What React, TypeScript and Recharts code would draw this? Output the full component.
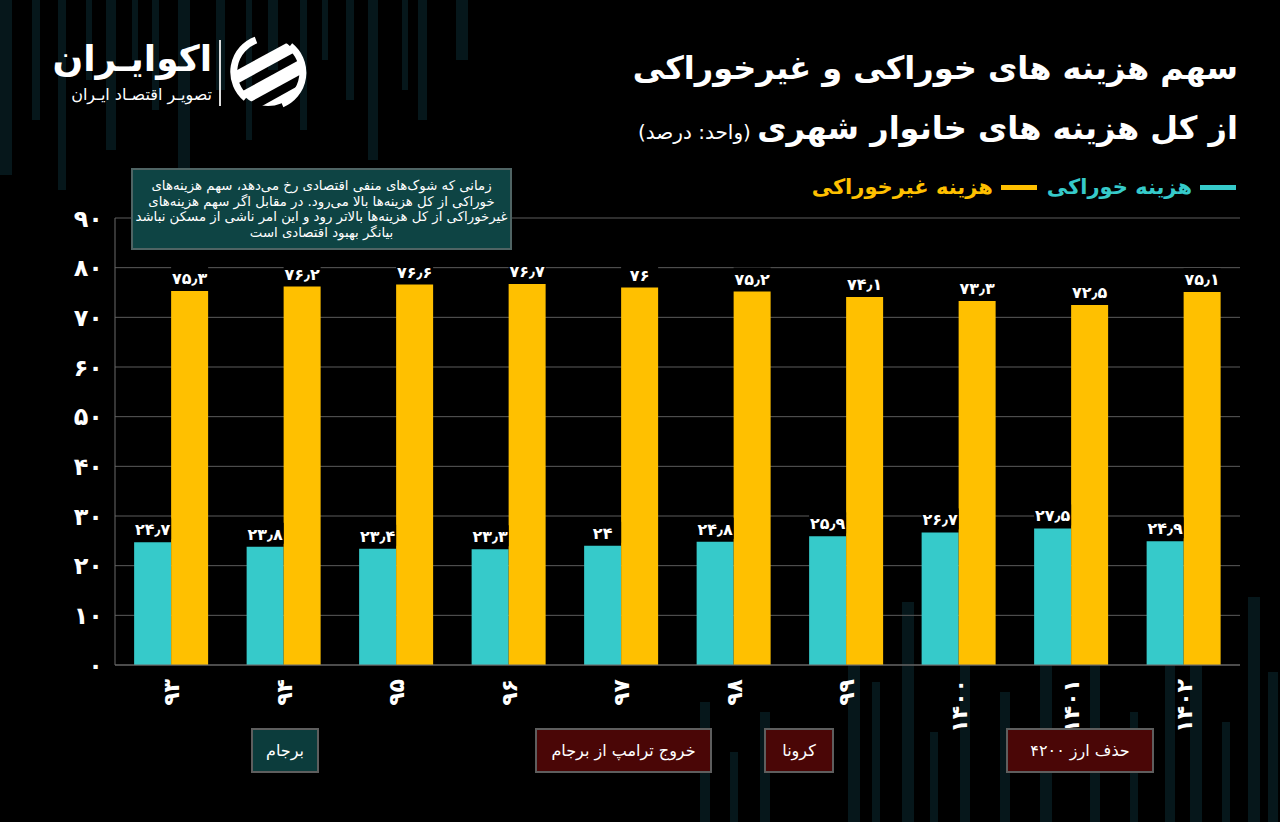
import React from "react";
import { BarChart, Bar, XAxis, YAxis, CartesianGrid, LabelList } from "recharts";

const years = ["۹۳", "۹۴", "۹۵", "۹۶", "۹۷", "۹۸", "۹۹", "۱۴۰۰", "۱۴۰۱", "۱۴۰۲"];
const foodShare = [24.7, 23.8, 23.4, 23.3, 24, 24.8, 25.9, 26.7, 27.5, 24.9];
const nonFoodShare = [75.3, 76.2, 76.6, 76.7, 76, 75.2, 74.1, 73.3, 72.5, 75.1];
const yTicks = [0, 10, 20, 30, 40, 50, 60, 70, 80, 90];
const seriesNames = ["هزینه خوراکی", "هزینه غیرخوراکی"];
const titleLine1 = "سهم هزینه های خوراکی و غیرخوراکی";
const titleLine2 = "از کل هزینه های خانوار شهری";
const unitText = "(واحد: درصد)";
const noteLines = [
  "زمانی که شوک‌های منفی اقتصادی رخ می‌دهد، سهم هزینه‌های",
  "خوراکی از کل هزینه‌ها بالا می‌رود. در مقابل اگر سهم هزینه‌های",
  "غیرخوراکی از کل هزینه‌ها بالاتر رود و این امر ناشی از مسکن نباشد",
  "بیانگر بهبود اقتصادی است",
];
const eventLabels = ["برجام", "خروج ترامپ از برجام", "کرونا", "حذف ارز ۴۲۰۰"];

const data = years.map((y, i) => ({ year: y, food: foodShare[i], nonFood: nonFoodShare[i] }));

const TEAL = "#36CACA";
const GOLD = "#FFC000";
const FONT = "'DejaVu Sans', sans-serif";

const faDigits = "۰۱۲۳۴۵۶۷۸۹";
const toFa = (v: number | string) =>
  String(v)
    .replace(/\d/g, (d) => faDigits[Number(d)])
    .replace(".", "٫");

const YTick = (props: any) => {
  const { x, y, payload } = props;
  return (
    <text x={x - 4} y={y} dy="0.36em" textAnchor="end" fill="#fff" fontSize={24} fontWeight={700} fontFamily={FONT}>
      {toFa(payload.value)}
    </text>
  );
};

const XTick = (props: any) => {
  const { x, y, payload } = props;
  const ty = y + 6;
  return (
    <text
      x={x}
      y={ty}
      dy="0.36em"
      textAnchor="end"
      transform={`rotate(-90, ${x}, ${ty})`}
      fill="#fff"
      fontSize={22}
      fontWeight={700}
      fontFamily={FONT}
    >
      {payload.value}
    </text>
  );
};

const ValueLabel = (props: any) => {
  const { x, y, width, value } = props;
  const cx = x + width / 2;
  return (
    <g>
      <rect x={x} y={y - 24} width={width} height={21} fill="#000" />
      <text x={cx} y={y - 7} textAnchor="middle" fill="#fff" fontSize={16} fontWeight={700} fontFamily={FONT}>
        {toFa(value)}
      </text>
    </g>
  );
};

const decorTop = [
  [0, 12, 175], [32, 8, 120], [58, 8, 190], [86, 6, 80], [106, 10, 150], [132, 6, 60],
  [152, 7, 110], [178, 12, 200], [216, 9, 90], [246, 6, 140], [268, 10, 70], [300, 7, 130],
  [322, 6, 60], [346, 8, 100], [368, 10, 160], [402, 6, 90], [418, 9, 120], [456, 12, 60],
];
const decorBottom = [
  [700, 10, 120], [730, 8, 70], [760, 10, 110], [848, 12, 260], [872, 8, 140], [902, 12, 220],
  [930, 8, 90], [960, 10, 170], [1000, 10, 130], [1040, 12, 200], [1090, 10, 240],
  [1130, 8, 110], [1165, 10, 180], [1190, 12, 245], [1222, 8, 100], [1248, 12, 225], [1268, 10, 150],
];

const Logo = () => (
  <svg width={90} height={80} viewBox="0 0 90 80" style={{ position: "absolute", left: 226, top: 32 }}>
    <defs>
      <clipPath id="lc">
        <circle cx={42} cy={40} r={34} />
      </clipPath>
    </defs>
    <g clipPath="url(#lc)" fill="#fff">
      <polygon points="0,44 70,6 80,14 0,58" />
      <polygon points="4,66 84,22 90,34 10,78" />
      <polygon points="18,84 90,44 90,56 30,90" />
    </g>
    <path d="M 20 66 A 34 34 0 0 1 30 8" stroke="#fff" strokeWidth={7} fill="none" />
    <path d="M 64 14 A 34 34 0 0 1 56 72" stroke="#fff" strokeWidth={7} fill="none" />
  </svg>
);

export default function App() {
  return (
    <div
      style={{
        position: "absolute",
        left: 0,
        top: 0,
        width: 1280,
        height: 822,
        background: "#000",
        overflow: "hidden",
        fontFamily: FONT,
      }}
    >
      <svg width={1280} height={822} style={{ position: "absolute", left: 0, top: 0 }}>
        {decorTop.map(([x, w, h], i) => (
          <rect key={"t" + i} x={x} y={0} width={w} height={h} fill="#06171b" />
        ))}
        {decorBottom.map(([x, w, h], i) => (
          <rect key={"b" + i} x={x} y={822 - h} width={w} height={h} fill="#06171b" />
        ))}
      </svg>

      <div style={{ position: "absolute", left: 0, top: 0 }}>
        <BarChart
          width={1280}
          height={822}
          data={data}
          margin={{ top: 218, right: 40, bottom: 97, left: 55 }}
          barCategoryGap="17%"
          barGap={0}
        >
          <CartesianGrid vertical={false} stroke="#5c5c5c" strokeWidth={1} />
          <YAxis
            domain={[0, 90]}
            ticks={yTicks}
            width={60}
            axisLine={{ stroke: "#6a6a6a" }}
            tickLine={false}
            tick={<YTick />}
            interval={0}
          />
          <XAxis
            dataKey="year"
            height={60}
            axisLine={{ stroke: "#6a6a6a" }}
            tickLine={false}
            tick={<XTick />}
            interval={0}
          />
          <Bar dataKey="food" name={seriesNames[0]} fill={TEAL} isAnimationActive={false}>
            <LabelList dataKey="food" content={<ValueLabel />} />
          </Bar>
          <Bar dataKey="nonFood" name={seriesNames[1]} fill={GOLD} isAnimationActive={false}>
            <LabelList dataKey="nonFood" content={<ValueLabel />} />
          </Bar>
        </BarChart>
      </div>

      {/* Logo */}
      <div
        dir="rtl"
        style={{ position: "absolute", right: 1280 - 212, top: 34, color: "#fff", fontSize: 36, fontWeight: 700, whiteSpace: "nowrap", lineHeight: "50px" }}
      >
        اکوایـران
      </div>
      <div
        dir="rtl"
        style={{ position: "absolute", right: 1280 - 212, top: 84, color: "#fff", fontSize: 16, whiteSpace: "nowrap", lineHeight: "22px" }}
      >
        تصویـر اقتصـاد ایـران
      </div>
      <div style={{ position: "absolute", left: 219, top: 40, width: 2, height: 66, background: "#ddd" }} />
      <Logo />

      {/* Title */}
      <div
        dir="rtl"
        style={{ position: "absolute", right: 42, top: 44, color: "#fff", fontSize: 32, fontWeight: 700, whiteSpace: "nowrap", lineHeight: "48px" }}
      >
        {titleLine1}
      </div>
      <div
        dir="rtl"
        style={{ position: "absolute", right: 42, top: 104, color: "#fff", whiteSpace: "nowrap", lineHeight: "48px" }}
      >
        <span style={{ fontSize: 32, fontWeight: 700 }}>{titleLine2}</span>
        <span style={{ fontSize: 20 }}> {unitText}</span>
      </div>

      {/* Legend */}
      <div
        dir="rtl"
        style={{ position: "absolute", right: 44, top: 172, display: "flex", alignItems: "center", whiteSpace: "nowrap", fontSize: 21, fontWeight: 700, lineHeight: "30px" }}
      >
        <span style={{ display: "inline-block", width: 36, height: 5, background: TEAL, marginLeft: 8 }} />
        <span style={{ color: TEAL }}>{seriesNames[0]}</span>
        <span style={{ display: "inline-block", width: 36, height: 5, background: GOLD, marginLeft: 8, marginRight: 10 }} />
        <span style={{ color: GOLD }}>{seriesNames[1]}</span>
      </div>

      {/* Note box */}
      <div
        dir="rtl"
        style={{
          position: "absolute",
          left: 131,
          top: 168,
          width: 381,
          height: 82,
          boxSizing: "border-box",
          background: "#0e4444",
          border: "2px solid #4f6464",
          color: "#fff",
          fontSize: 13.3,
          lineHeight: "15.5px",
          textAlign: "center",
          paddingTop: 8,
          whiteSpace: "nowrap",
        }}
      >
        {noteLines.map((l, i) => (
          <div key={i}>{l}</div>
        ))}
      </div>

      {/* Event boxes */}
      {[
        { left: 251, width: 68, bg: "#0c3c3c" },
        { left: 535, width: 177, bg: "#4a0606" },
        { left: 764, width: 70, bg: "#4a0606" },
        { left: 1006, width: 148, bg: "#4a0606" },
      ].map((b, i) => (
        <div
          key={i}
          dir="rtl"
          style={{
            position: "absolute",
            left: b.left,
            top: 728,
            width: b.width,
            height: 45,
            boxSizing: "border-box",
            background: b.bg,
            border: "2px solid #5e5e5e",
            color: "#fff",
            fontSize: 16,
            display: "flex",
            alignItems: "center",
            justifyContent: "center",
            whiteSpace: "nowrap",
          }}
        >
          {eventLabels[i]}
        </div>
      ))}
    </div>
  );
}
